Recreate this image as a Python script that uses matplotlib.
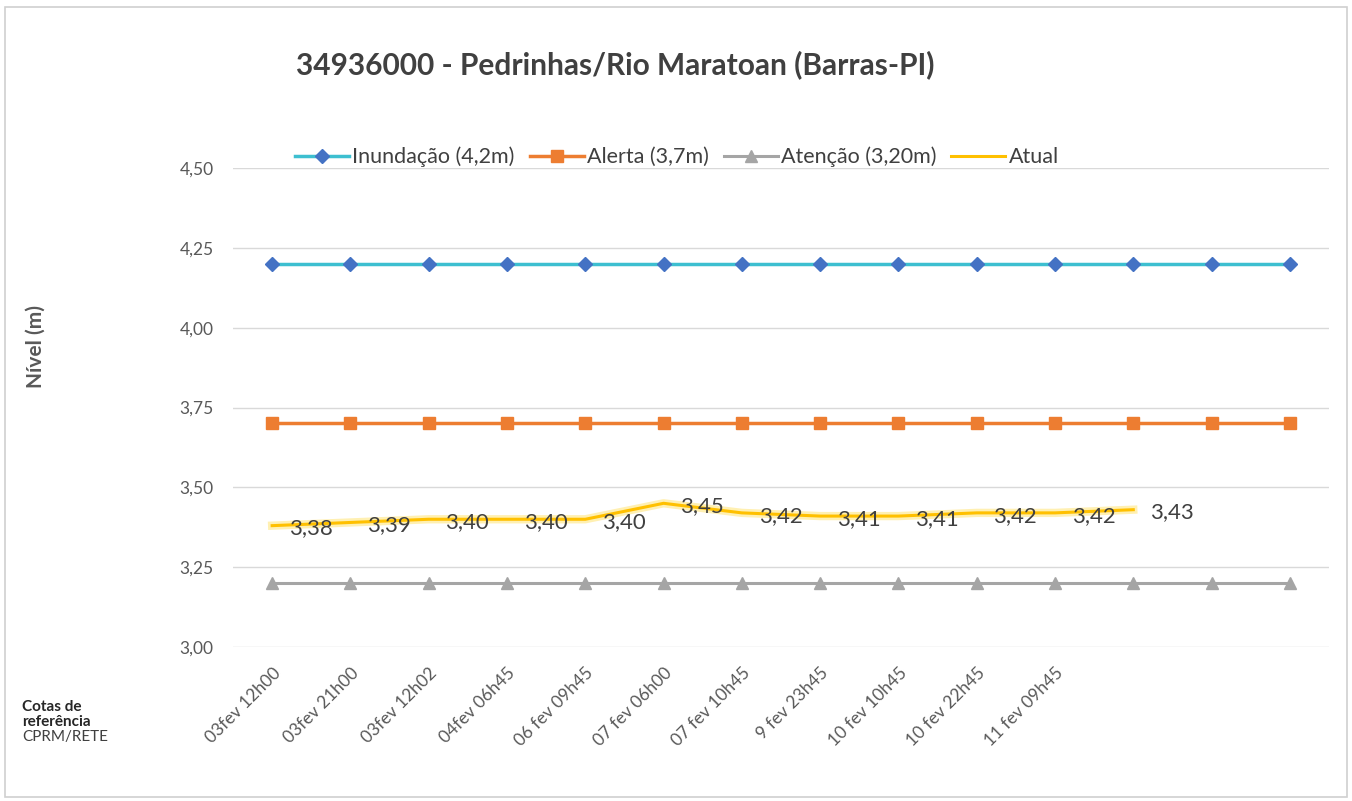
import matplotlib.pyplot as plt
import matplotlib.patches as mpatches

# --- dados ---
posicoes = list(range(14))
rotulos_x = ["03fev 12h00", "03fev 21h00", "03fev 12h02", "04fev 06h45",
             "06 fev 09h45", "07 fev 06h00", "07 fev 10h45", "9 fev 23h45",
             "10 fev 10h45", "10 fev 22h45", "11 fev 09h45", "", "", ""]
inundacao = [4.2] * 14
alerta = [3.7] * 14
atencao = [3.2] * 14
atual = [3.38, 3.39, 3.40, 3.40, 3.40, 3.45, 3.42, 3.41, 3.41, 3.42, 3.42, 3.43]
rotulos_atual = ["3,38", "3,39", "3,40", "3,40", "3,40", "3,45",
                 "3,42", "3,41", "3,41", "3,42", "3,42", "3,43"]
yticks = [3.00, 3.25, 3.50, 3.75, 4.00, 4.25, 4.50]

plt.rcParams['font.family'] = ['Lato', 'DejaVu Sans']

fig = plt.figure(figsize=(13.52, 8.01), dpi=100)
ax = fig.add_axes([233 / 1352, 154 / 801, 1096 / 1352, 479 / 801])

# moldura externa
fig.patches.append(mpatches.Rectangle((5 / 1352, 4 / 801), 1342 / 1352, 790 / 801,
                                      transform=fig.transFigure, fill=False,
                                      edgecolor='#D0D0D0', linewidth=1.2))

ax.plot(posicoes, inundacao, color='#3DBFD0', linewidth=2.5, marker='D',
        markersize=7, markerfacecolor='#4472C4', markeredgecolor='#4472C4',
        label='Inundação (4,2m)', zorder=3)
ax.plot(posicoes, alerta, color='#ED7D31', linewidth=2.5, marker='s',
        markersize=8, label='Alerta (3,7m)', zorder=3)
ax.plot(posicoes, atencao, color='#A5A5A5', linewidth=2.2, marker='^',
        markersize=8, label='Atenção (3,20m)', zorder=3)
x_atual = posicoes[:len(atual)]
ax.plot(x_atual, atual, color='#FFE680', linewidth=6, alpha=0.6, zorder=3)
ax.plot(x_atual, atual, color='#FFC000', linewidth=2.2, label='Atual', zorder=4)

for xi, yi, txt in zip(x_atual, atual, rotulos_atual):
    ax.annotate(txt, (xi, yi), xytext=(12, -2), textcoords='offset points',
                ha='left', va='center', fontsize=16, color='#404040', zorder=5)

ax.set_xlim(-0.5, 13.5)
ax.set_ylim(3.0, 4.5)
ax.set_yticks(yticks)
ax.set_yticklabels([f"{v:.2f}".replace('.', ',') for v in yticks],
                   fontsize=12.5, color='#595959')
ax.set_xticks(posicoes)
ax.set_xticklabels(rotulos_x, rotation=45, ha='right', rotation_mode='anchor',
                   fontsize=12.5, color='#595959')
ax.tick_params(axis='both', length=0)
ax.tick_params(axis='y', pad=14)
ax.tick_params(axis='x', pad=13)
ax.grid(axis='y', color='#D9D9D9', linewidth=1)
ax.set_axisbelow(True)
for s in ax.spines.values():
    s.set_visible(False)

fig.text(615 / 1352, 1 - 65 / 801, "34936000 - Pedrinhas/Rio Maratoan (Barras-PI)",
         ha='center', va='center', fontsize=21.5, fontweight='bold', color='#404040')
fig.text(36 / 1352, 1 - 347 / 801, "Nível (m)", rotation=90, ha='center',
         va='center', fontsize=15, fontweight='bold', color='#595959')
fig.text(22 / 1352, 1 - 707 / 801, "Cotas de", ha='left', va='center',
         fontsize=11, fontweight='bold', color='#262626')
fig.text(22 / 1352, 1 - 722 / 801, "referência", ha='left', va='center',
         fontsize=11, fontweight='bold', color='#262626')
fig.text(22 / 1352, 1 - 737 / 801, "CPRM/RETE", ha='left', va='center',
         fontsize=11, color='#404040')

fig.legend(loc='center', bbox_to_anchor=(677 / 1352, 1 - 157 / 801), ncol=4,
           frameon=False, fontsize=15.5, handlelength=2.5, handletextpad=0.15,
           columnspacing=0.7, labelcolor='#404040')

plt.savefig('out.png', dpi=100)
